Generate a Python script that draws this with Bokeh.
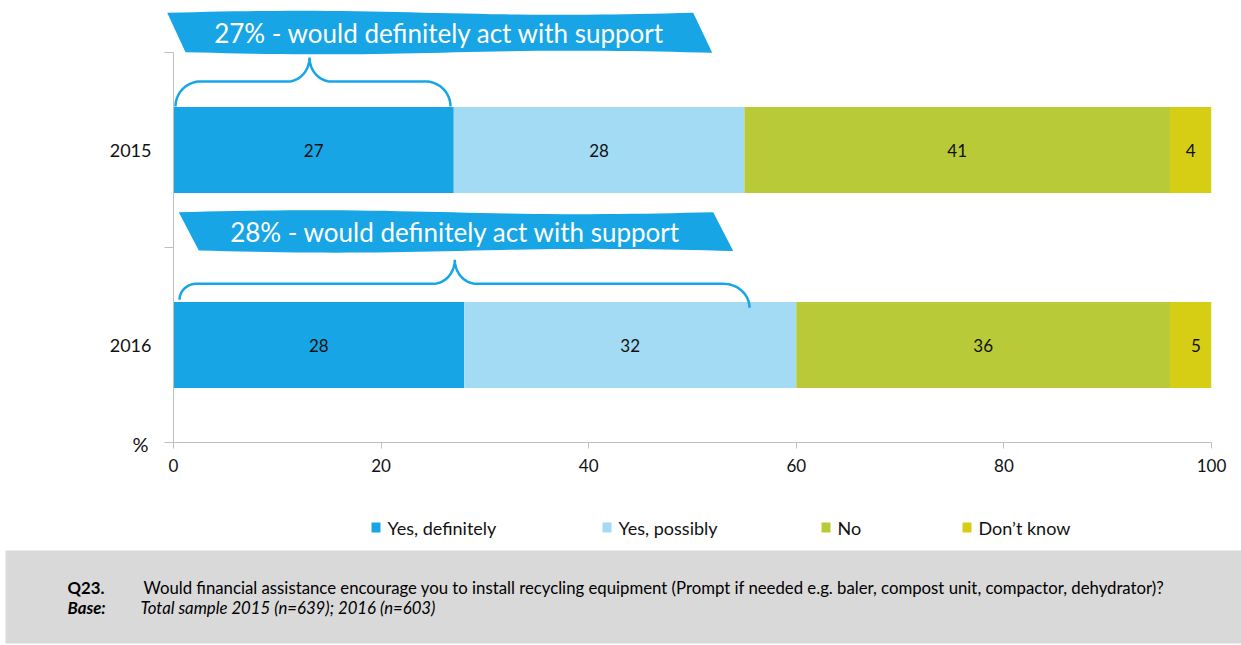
import numpy as np
from bokeh.plotting import figure
from bokeh.models import ColumnDataSource, Range1d, FixedTicker
from bokeh.core.properties import value
from bokeh.embed import file_html
from bokeh.resources import INLINE

# ---------------- data ----------------
years = ["2015", "2016"]
series = ["Yes, definitely", "Yes, possibly", "No", "Don\u2019t know"]
yes_definitely = [27, 28]
yes_possibly = [28, 32]
no_values = [41, 36]
dont_know = [4, 5]
x_ticks = [0, 20, 40, 60, 80, 100]
colors = ["#17A5E6", "#A3DBF5", "#B8CA37", "#D6CE15"]
callout_suffix = "% - would definitely act with support"
question_id = "Q23."
question = ("Would financial assistance encourage you to install recycling equipment "
            "(Prompt if needed e.g. baler, compost unit, compactor, dehydrator)?")
base_label = "Base:"
base_text = "Total sample 2015 (n=639); 2016 (n=603)"

FONT = "Lato"
W, H = 1241, 645

# ---------------- main figure ----------------
n = len(years)
ypos = [n - i - 0.5 for i in range(n)]
p = figure(width=W, height=H, x_range=Range1d(0, 100), y_range=Range1d(0, n),
           output_backend="svg", toolbar_location=None,
           min_border_left=173, min_border_right=30, min_border_top=52, min_border_bottom=203)
p.outline_line_color = None
p.grid.visible = False
p.background_fill_color = "white"
p.border_fill_color = "white"

src = ColumnDataSource(dict(y=ypos, yd=yes_definitely, yp=yes_possibly, no=no_values, dk=dont_know))
stack_keys = ["yd", "yp", "no", "dk"]
bars = p.hbar_stack(stack_keys, y="y", height=0.44, color=colors, line_color=None, source=src)

# segment labels
lx, ly, lt = [], [], []
cols = [yes_definitely, yes_possibly, no_values, dont_know]
for i in range(n):
    cum = 0
    for c in cols:
        v = c[i]
        lx.append(cum + v / 2)
        ly.append(ypos[i])
        lt.append(str(v))
        cum += v
p.text(x=lx, y=ly, text=lt, text_align="center", text_baseline="middle",
       text_font=value(FONT), text_font_size="17px", text_color="#111111")

# axes
ax = p.xaxis[0]
ax.ticker = FixedTicker(ticks=x_ticks)
ax.axis_line_color = "#BFBFBF"
ax.major_tick_line_color = "#BFBFBF"
ax.major_tick_out = 6
ax.major_tick_in = 0
ax.minor_tick_line_color = None
ax.major_label_text_font = FONT
ax.major_label_text_font_size = "17px"
ax.major_label_text_color = "#111111"
ax.major_label_standoff = 10

ay = p.yaxis[0]
ay.ticker = FixedTicker(ticks=ypos, minor_ticks=list(range(n + 1)))
ay.major_label_overrides = {ypos[i]: years[i] for i in range(n)}
ay.axis_line_color = "#BFBFBF"
ay.major_tick_out = 0
ay.major_tick_in = 0
ay.minor_tick_out = 9
ay.minor_tick_in = 0
ay.minor_tick_line_color = "#BFBFBF"
ay.major_label_text_font = FONT
ay.major_label_text_font_size = "18px"
ay.major_label_text_color = "#111111"
ay.major_label_standoff = 13

# ---------------- page-pixel layout helpers -> data ----------------
FX0, KX = 173.0, 1038.0 / 100
FY0, KY = 442.0, 390.0 / n


def dxy(px, py):
    return [(x - FX0) / KX for x in px], [(FY0 - y) / KY for y in py]


# "%" label at origin
pxp, pyp = dxy([148], [443])
p.text(x=pxp, y=pyp, text=["%"], text_align="right", text_baseline="middle",
       text_font=value(FONT), text_font_size="20px", text_color="#111111", level="overlay")


def banner(tl, tr, br, bl, amp=2.0, m=40):
    t = np.linspace(0, 1, m)
    topx = tl[0] + (tr[0] - tl[0]) * t
    topy = tl[1] + (tr[1] - tl[1]) * t - amp * np.sin(2 * np.pi * t)
    botx = br[0] + (bl[0] - br[0]) * t
    boty = br[1] + (bl[1] - br[1]) * t + amp * np.sin(2 * np.pi * (1 - t))
    return dxy(list(topx) + list(botx), list(topy) + list(boty))


def brace(x0, x1, xm, yl, yr, yh, yp, rl, rr, rm, m=20):
    th = np.linspace(0, np.pi / 2, m)
    xs, ys = [], []
    ry = yl - yh
    xs += list(x0 + rl - rl * np.cos(th)); ys += list(yl - ry * np.sin(th))
    rym = yh - yp
    xs += list(xm - rm + rm * np.sin(th)); ys += list(yp + rym * np.cos(th))
    xs += list(xm + rm - rm * np.cos(th)); ys += list(yp + rym * np.sin(th))
    ry2 = yr - yh
    xs += list(x1 - rr + rr * np.sin(th)); ys += list(yh + ry2 - ry2 * np.cos(th))
    return dxy(xs, ys)


banners = [
    dict(tl=(166.7, 12.3), tr=(692.7, 12.3), br=(711.7, 52.3), bl=(185.0, 51.7), tx=439, ty=32.5),
    dict(tl=(178.3, 211.7), tr=(712.7, 211.7), br=(732.7, 250.5), bl=(198.3, 250.0), tx=455, ty=231.7),
]
braces = [
    dict(x0=175, x1=450, xm=309, yl=106, yr=106, yh=81, yp=57, rl=25, rr=25, rm=22),
    dict(x0=179, x1=749, xm=454.3, yl=299.3, yr=307.3, yh=283.3, yp=259.3, rl=17, rr=26, rm=22),
]

bxs, bys = [], []
for b in banners:
    bx, by = banner(b["tl"], b["tr"], b["br"], b["bl"])
    bxs.append(bx); bys.append(by)
p.patches(bxs, bys, fill_color=colors[0], line_color=None, level="overlay")

tx, ty = dxy([b["tx"] for b in banners], [b["ty"] for b in banners])
p.text(x=tx, y=ty, text=[f"{v}{callout_suffix}" for v in yes_definitely],
       text_align="center", text_baseline="middle", text_font=value(FONT),
       text_font_size="26px", text_color="white", level="overlay")

mxs, mys = [], []
for b in braces:
    bx, by = brace(**b)
    mxs.append(bx); mys.append(by)
p.multi_line(mxs, mys, line_color=colors[0], line_width=2.5, level="overlay")

# ---------------- legend (drawn below the axis) ----------------
legend_left = [371, 602, 821, 962]   # swatch left edges (page px)
sw_l, sw_t = dxy(legend_left, [522] * len(series))
sw_r, sw_b = dxy([x + 9 for x in legend_left], [532] * len(series))
p.quad(left=sw_l, right=sw_r, top=sw_t, bottom=sw_b, fill_color=colors, line_color=None,
       level="overlay")
ltx, lty = dxy([x + 16 for x in legend_left], [527] * len(series))
p.text(x=ltx, y=lty, text=series, text_align="left", text_baseline="middle",
       text_font=value(FONT), text_font_size="18px", text_color="#111111", level="overlay")

# ---------------- footer box ----------------
fx, fy = dxy([5, 1241], [550, 643])
p.quad(left=[fx[0]], right=[fx[1]], top=[fy[0]], bottom=[fy[1]],
       fill_color="#D9D9D9", line_color=None, level="overlay")

ftexts = [
    (67, 587, question_id, "bold"),
    (143, 587, question, "normal"),
    (67, 607, base_label, "bold italic"),
    (140, 607, base_text, "italic"),
]
for px_, py_, t_, st_ in ftexts:
    xx, yy = dxy([px_], [py_])
    p.text(x=xx, y=yy, text=[t_], text_font=value(FONT), text_font_size="16.75px",
           text_font_style=st_, text_baseline="middle", text_color="black", level="overlay")

open("out.html", "w").write(file_html(p, INLINE))
